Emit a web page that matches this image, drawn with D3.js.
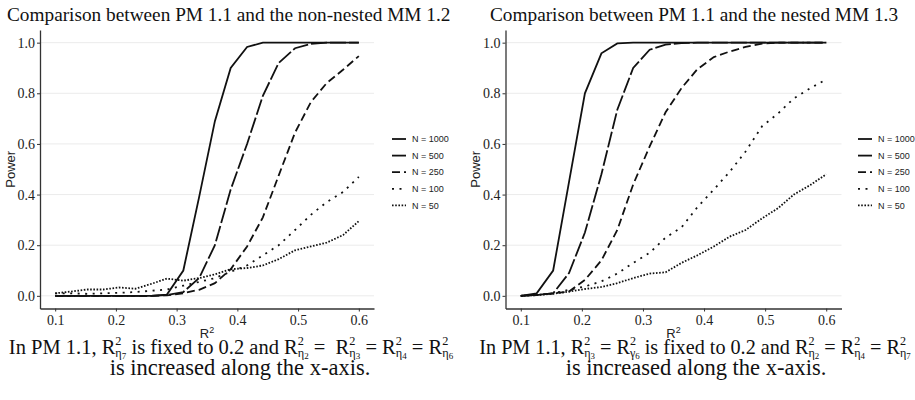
<!DOCTYPE html>
<html>
<head>
<meta charset="utf-8">
<script src="https://cdn.jsdelivr.net/npm/d3@7"></script>
<style>
  html, body { margin: 0; padding: 0; background: #fff; }
  svg { display: block; }
</style>
</head>
<body>
<svg id="chart" width="915" height="400"></svg>
<script>
// ---------- DATA ----------
const xValues = [0.100, 0.126, 0.153, 0.179, 0.205, 0.232, 0.258, 0.284, 0.311, 0.337,
                 0.363, 0.389, 0.416, 0.442, 0.468, 0.495, 0.521, 0.547, 0.574, 0.600];
const xTicks = [0.1, 0.2, 0.3, 0.4, 0.5, 0.6];
const yTicks = [0.0, 0.2, 0.4, 0.6, 0.8, 1.0];
const seriesNames = ["N = 1000", "N = 500", "N = 250", "N = 100", "N = 50"];

// Left panel: PM 1.1 vs non-nested MM 1.2
const nonNestedN1000 = [0,0,0,0,0,0,0,0.005,0.10,0.39,0.69,0.90,0.983,1,1,1,1,1,1,1];
const nonNestedN500  = [0,0,0,0,0,0,0,0.003,0.015,0.07,0.20,0.42,0.60,0.79,0.92,0.978,0.995,1,1,1];
const nonNestedN250  = [0,0,0,0,0,0,0,0.002,0.01,0.024,0.05,0.105,0.195,0.31,0.475,0.645,0.765,0.84,0.893,0.947];
const nonNestedN100  = [0.01,0.01,0.008,0.01,0.012,0.015,0.02,0.025,0.04,0.055,0.07,0.095,0.12,0.16,0.20,0.26,0.32,0.37,0.41,0.47];
const nonNestedN50   = [0.01,0.017,0.025,0.025,0.033,0.028,0.047,0.068,0.06,0.07,0.085,0.105,0.11,0.12,0.145,0.18,0.195,0.21,0.24,0.295];

// Right panel: PM 1.1 vs nested MM 1.3
const nestedN1000 = [0,0.01,0.10,0.45,0.80,0.958,0.997,1,1,1,1,1,1,1,1,1,1,1,1,1];
const nestedN500  = [0,0.004,0.01,0.09,0.25,0.48,0.735,0.90,0.972,0.992,0.998,1,1,1,1,1,1,1,1,1];
const nestedN250  = [0,0.003,0.01,0.017,0.063,0.14,0.26,0.44,0.59,0.725,0.82,0.895,0.943,0.965,0.983,0.996,1,1,1,1];
const nestedN100  = [0,0.003,0.01,0.024,0.037,0.057,0.088,0.13,0.17,0.23,0.27,0.35,0.42,0.49,0.57,0.67,0.72,0.78,0.82,0.855];
const nestedN50   = [0,0.003,0.008,0.017,0.027,0.035,0.05,0.07,0.088,0.093,0.13,0.16,0.195,0.234,0.26,0.306,0.346,0.40,0.438,0.48];

const leftTitle = "Comparison between PM 1.1 and the non-nested MM 1.2";
const rightTitle = "Comparison between PM 1.1 and the nested MM 1.3";

// ---------- STYLE ----------
const dashes = [null, "16,3", "8,4", "2,5.5", "1.6,1.6"];
const serif = "'Liberation Serif', 'Times New Roman', serif";
const sans = "'Liberation Sans', Arial, sans-serif";

const svg = d3.select("#chart");

const panels = [
  { left: 40, right: 374, title: leftTitle, titleX: 7,
    series: [nonNestedN1000, nonNestedN500, nonNestedN250, nonNestedN100, nonNestedN50],
    legendX: 392 },
  { left: 505.5, right: 841.5, title: rightTitle, titleX: 490,
    series: [nestedN1000, nestedN500, nestedN250, nestedN100, nestedN50],
    legendX: 858 }
];

const plotTop = 30, plotBottom = 308.5;

panels.forEach(p => {
  const g = svg.append("g");
  const x = d3.scaleLinear().domain([0.075, 0.625]).range([p.left, p.right]);
  const y = d3.scaleLinear().domain([-0.05, 1.05]).range([plotBottom, plotTop]);

  // gridlines
  g.append("g").selectAll("line").data(yTicks).join("line")
    .attr("x1", p.left).attr("x2", p.right)
    .attr("y1", d => y(d)).attr("y2", d => y(d))
    .attr("stroke", "#ebebeb").attr("stroke-width", 1);

  // lines
  const line = d3.line().x((d, i) => x(xValues[i])).y(d => y(d));
  p.series.forEach((s, i) => {
    g.append("path").datum(s)
      .attr("d", line)
      .attr("fill", "none")
      .attr("stroke", "#111")
      .attr("stroke-width", 1.8)
      .attr("stroke-dasharray", dashes[i]);
  });

  // axes
  const xa = g.append("g").attr("transform", `translate(0,${plotBottom})`)
    .call(d3.axisBottom(x).tickValues(xTicks).tickSize(3).tickSizeOuter(0).tickFormat(d3.format(".1f")));
  const ya = g.append("g").attr("transform", `translate(${p.left},0)`)
    .call(d3.axisLeft(y).tickValues(yTicks).tickSize(3).tickSizeOuter(0).tickFormat(d3.format(".1f")));
  [xa, ya].forEach(a => {
    a.attr("font-family", serif).attr("font-size", 14);
    a.select(".domain").attr("stroke", "#333").attr("stroke-width", 1.3);
    a.selectAll(".tick line").attr("stroke", "#333").attr("stroke-width", 1);
    a.selectAll(".tick text")
      .style("font-family", serif).style("font-size", "14px").attr("fill", "#222");
  });
  xa.selectAll(".tick text").attr("dy", "0.95em").attr("y", 3);
  ya.selectAll(".tick text").attr("x", -5);

  // axis titles
  g.append("text")
    .attr("transform", `translate(${p.left - 30},${(plotTop + plotBottom) / 2}) rotate(-90)`)
    .attr("text-anchor", "middle").attr("dy", "0.35em")
    .attr("font-family", sans).attr("font-size", 13).attr("fill", "#222")
    .text("Power");
  const xt = g.append("text")
    .attr("x", (x(0.1) + x(0.6)) / 2).attr("y", 338)
    .attr("text-anchor", "middle")
    .attr("font-family", sans).attr("font-size", 13).attr("fill", "#222");
  xt.append("tspan").text("R");
  xt.append("tspan").attr("font-size", 9).attr("dy", -5).text("2");

  // title
  g.append("text").attr("x", p.titleX).attr("y", 21)
    .attr("font-family", serif).attr("font-size", 19.3).attr("fill", "#111")
    .text(p.title);

  // legend
  const lg = g.append("g");
  seriesNames.forEach((name, i) => {
    const yy = 139 + i * 16.6;
    lg.append("line").attr("x1", p.legendX).attr("x2", p.legendX + 14)
      .attr("y1", yy).attr("y2", yy)
      .attr("stroke", "#111").attr("stroke-width", 1.8)
      .attr("stroke-dasharray", dashes[i]);
    lg.append("text").attr("x", p.legendX + 20).attr("y", yy).attr("dy", "0.35em")
      .attr("font-family", sans).attr("font-size", 9).attr("fill", "#222")
      .text(name);
  });
});

// ---------- CAPTIONS ----------
function measure(txt, sz) {
  const t = svg.append("text").attr("font-family", serif).attr("font-size", sz)
    .attr("x", -1000).attr("y", -1000).text(txt.replace(/ /g, "\u00a0"));
  const w = t.node().getComputedTextLength();
  t.remove();
  return w;
}
function richLine(cx, y, size, parts) {
  const pieces = [];
  let cursor = 0;
  const add = (txt, sz, dy) => {
    const w = measure(txt, sz);
    pieces.push({ txt, sz, x: cursor, y: y + dy });
    return w;
  };
  const supSize = size * 0.6, idxSize = size * 0.44;
  parts.forEach(pt => {
    if (typeof pt === "string") {
      cursor += add(pt, size, 0);
    } else {
      cursor += add("R", size, 0);
      const start = cursor;
      const wSup = add("2", supSize, -size * 0.44);
      const wEta = add(pt.sub, supSize, size * 0.17);
      cursor += wEta;
      const wIdx = add(pt.idx, idxSize, size * 0.25);
      cursor = start + Math.max(wSup, wEta + wIdx);
    }
  });
  const x0 = cx - cursor / 2;
  const t = svg.append("text").attr("font-family", serif).attr("fill", "#111")
    .attr("font-size", size);
  pieces.forEach(pc => {
    t.append("tspan").attr("x", x0 + pc.x).attr("y", pc.y)
      .attr("font-size", pc.sz).text(pc.txt.replace(/ /g, "\u00a0"));
  });
}

richLine(231, 354, 20.5, ["In PM 1.1, ", {sub: "\u03b7", idx: "7"}, " is fixed to 0.2 and ",
  {sub: "\u03b7", idx: "2"}, " =  ", {sub: "\u03b7", idx: "3"}, " = ", {sub: "\u03b7", idx: "4"}, " = ", {sub: "\u03b7", idx: "6"}]);
richLine(240, 375, 22.5, ["is increased along the x-axis."]);

richLine(695, 354, 20.2, ["In PM 1.1, ", {sub: "\u03b7", idx: "3"}, " = ", {sub: "\u03b3", idx: "6"}, " is fixed to 0.2 and ",
  {sub: "\u03b7", idx: "2"}, " = ", {sub: "\u03b7", idx: "4"}, " = ", {sub: "\u03b7", idx: "7"}]);
richLine(696, 375, 22.5, ["is increased along the x-axis."]);
</script>
</body>
</html>
